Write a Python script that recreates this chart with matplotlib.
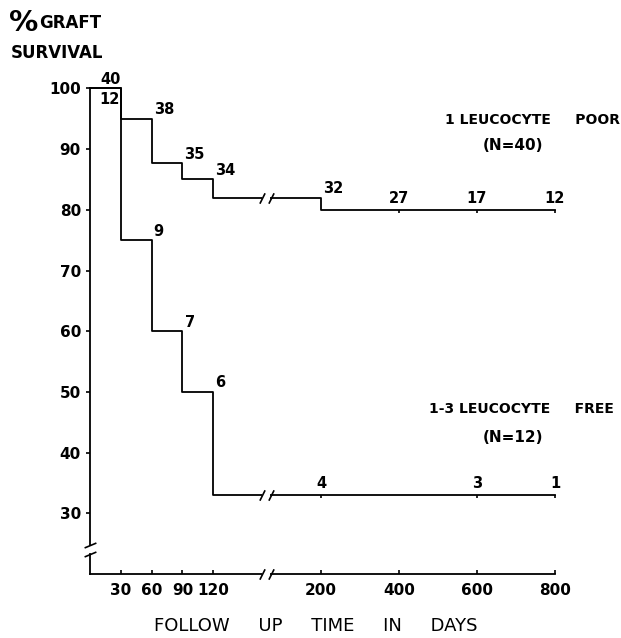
import numpy as np
import matplotlib
matplotlib.use('Agg')
from matplotlib import pyplot as plt

# survival curves (step after each day)
poor_days = [0, 30, 60, 90, 120, 200, 800]
poor_surv = [100, 95, 87.7, 85, 82, 80, 80]
free_days = [0, 30, 60, 90, 120, 800]
free_surv = [100, 75, 60, 50, 33, 33]
# censor ticks on the curves
poor_censor = [400, 600, 800]
free_censor = [200, 600, 800]
# numbers at risk
poor_risk_days = [20, 60, 90, 120, 200, 400, 600, 800]
poor_risk = ['40', '38', '35', '34', '32', '27', '17', '12']
free_risk_days = [19, 60, 90, 120, 200, 600, 800]
free_risk = ['12', '9', '7', '6', '4', '3', '1']

yticks = [30, 40, 50, 60, 70, 80, 90, 100]
xticks = [30, 60, 90, 120, 200, 400, 600, 800]

# broken time axis: 0-120 wide, 200-800 compressed
knots_day = [-100, 0, 120, 200, 800, 1200]
knots_u = [-102.7, 0, 123.3, 231, 465, 621]


def fwd(x):
    return np.interp(x, knots_day, knots_u)


def inv(u):
    return np.interp(u, knots_u, knots_day)


def level_before(days, surv, d):
    k = max(i for i in range(len(days)) if days[i] < d)
    return surv[k]


W, H = 621, 638
fig = plt.figure(figsize=(W / 100, H / 100), dpi=100)
ax = fig.add_axes([90 / W, 64 / H, 520 / W, 497.7 / H])
ax.set_xscale('function', functions=(fwd, inv))
ax.set_xlim(0, inv(520))
ax.set_ylim(20, 102)

lw = 1.3
ax.step(poor_days, poor_surv, where='post', color='black', lw=lw, clip_on=False)
ax.step(free_days, free_surv, where='post', color='black', lw=lw, clip_on=False)
tick_down = [(0, 0), (0, -1)]
ax.plot(poor_censor, [80] * len(poor_censor), ls='none', marker=tick_down,
        ms=4, mec='black', mew=1.2, clip_on=False)
ax.plot(free_censor, [33] * len(free_censor), ls='none', marker=tick_down,
        ms=4, mec='black', mew=1.2, clip_on=False)

# axes
for s in ['top', 'right']:
    ax.spines[s].set_visible(False)
ax.spines['left'].set_bounds(24.8, 100)
ax.spines['bottom'].set_bounds(0, 800)
ax.spines['left'].set_linewidth(lw)
ax.spines['bottom'].set_linewidth(lw)
ax.plot([0, 0], [20, 23.3], color='black', lw=lw, clip_on=False)

# break marks
slash_x = [(-1, -2), (1, 2)]
slash_y = [(-2.4, -1), (2.4, 1)]
gap = [(-1, 0), (1, 0)]
for yb in [82, 33, 20]:
    ax.plot([159.5], [yb], ls='none', marker=gap, ms=5.5, mec='white', mew=3,
            clip_on=False, zorder=4)
    ax.plot([156.5, 162.5], [yb, yb], ls='none', marker=slash_x, ms=7.5,
            mec='black', mew=1.2, clip_on=False, zorder=5)
ax.plot([0, 0], [24.8, 23.3], ls='none', marker=slash_y, ms=8.5,
        mec='black', mew=1.2, clip_on=False, zorder=5)

ax.set_yticks(yticks)
ax.set_xticks(xticks)
ax.set_xticklabels([str(v) for v in xticks])
ax.minorticks_off()
ax.tick_params(axis='y', direction='out', length=3, width=1.2, pad=3.5,
               labelsize=11)
ax.tick_params(axis='x', direction='in', length=3, width=1.2, pad=6.5,
               labelsize=11)
for t in ax.get_xticklabels() + ax.get_yticklabels():
    t.set_fontweight('bold')

# numbers at risk
def put_labels(days, surv, lab_days, labs, first_dy):
    for i, (d, t) in enumerate(zip(lab_days, labs)):
        if i == 0:
            y, ha, dx, dy = 100, 'center', 0, first_dy
        elif d in days[1:-1]:
            y, ha, dx, dy = level_before(days, surv, d), 'left', 1.5, 6.5
        else:
            y, ha, dx, dy = level_before(days, surv, d), 'center', 0, 8
        ax.annotate(t, (d, y), xytext=(dx, dy), textcoords='offset points',
                    ha=ha, va='center', fontsize=10.5, fontweight='bold',
                    annotation_clip=False)


put_labels(poor_days, poor_surv, poor_risk_days, poor_risk, 6.5)
put_labels(free_days, free_surv, free_risk_days, free_risk, -8)

# texts
def ftext(x, y, s, **kw):
    fig.text(x / W, 1 - y / H, s, va='center', **kw)


ftext(9, 23, '%', fontsize=21, fontweight='bold', ha='left')
ftext(39, 23, 'GRAFT', fontsize=12, fontweight='bold', ha='left')
ftext(11, 53, 'SURVIVAL', fontsize=12, fontweight='bold', ha='left')
ftext(620, 120, '1 LEUCOCYTE     POOR', fontsize=10, fontweight='bold', ha='right')
ftext(513, 146, '(N=40)', fontsize=11, fontweight='bold', ha='center')
ftext(614, 409, '1-3 LEUCOCYTE     FREE', fontsize=10, fontweight='bold', ha='right')
ftext(513, 437, '(N=12)', fontsize=11, fontweight='bold', ha='center')
ftext(316, 626, 'FOLLOW     UP     TIME     IN     DAYS', fontsize=13, ha='center')

fig.savefig('out.png', dpi=100)
